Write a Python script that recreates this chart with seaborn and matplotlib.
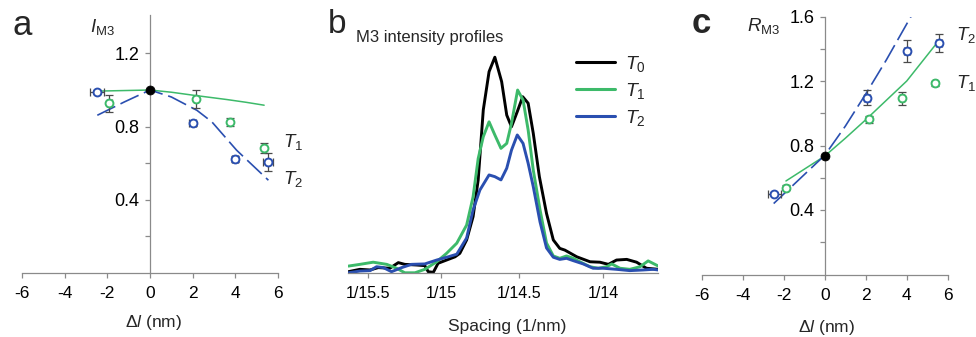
import numpy as np
import pandas as pd
import matplotlib
matplotlib.use("Agg")
import matplotlib.pyplot as plt
import seaborn as sns

# ---------------- data ----------------
# Panel a: I_M3 versus delta l (nm)
a_t1_dl = [-1.9, 2.15, 3.75, 5.35]
a_t1_i = [0.927, 0.95, 0.825, 0.685]
a_t1_ierr = [0.045, 0.05, 0.02, 0.027]
a_t1_dlerr = [0.1, 0.1, 0.1, 0.1]
a_t2_dl = [-2.47, 2.0, 3.98, 5.54]
a_t2_i = [0.99, 0.818, 0.622, 0.607]
a_t2_ierr = [0.01, 0.015, 0.015, 0.05]
a_t2_dlerr = [0.33, 0.15, 0.15, 0.22]
a_fit_t1_dl = [-2.5, 0, 1, 2, 3.6, 4.5, 5.35]
a_fit_t1_i = [0.994, 1.0, 0.988, 0.972, 0.948, 0.933, 0.917]
a_fit_t2_dl = [-2.47, -1.2, 0, 1, 2.2, 2.9, 4.06, 5.55]
a_fit_t2_i = [0.862, 0.935, 1.0, 0.962, 0.889, 0.826, 0.671, 0.507]
a_t0_dl = [0.0]
a_t0_i = [1.0]

# Panel b: M3 intensity profiles (spacing in 1/nm, relative intensity)
b_t0_s = [0.06394, 0.06428, 0.06458, 0.06482, 0.06516, 0.06541, 0.06560, 0.06595,
          0.06619, 0.06629, 0.06644, 0.06658, 0.06683, 0.06708, 0.06722, 0.06742,
          0.06761, 0.06776, 0.06791, 0.06808, 0.06825, 0.06845, 0.06860, 0.06874,
          0.06891, 0.06907, 0.06923, 0.06938, 0.06956, 0.06977, 0.06997, 0.07016,
          0.07031, 0.07066, 0.07105, 0.07134, 0.07159, 0.07183, 0.07213, 0.07242,
          0.07271, 0.07306]
b_t0_i = [0.006, 0.017, 0.014, 0.025, 0.022, 0.048, 0.040, 0.037,
          0.034, 0.006, 0.003, 0.045, 0.060, 0.075, 0.091, 0.153,
          0.261, 0.431, 0.755, 0.932, 0.999, 0.886, 0.731, 0.677,
          0.747, 0.816, 0.786, 0.647, 0.446, 0.276, 0.153, 0.114,
          0.106, 0.075, 0.052, 0.050, 0.040, 0.060, 0.063, 0.050,
          0.022, 0.017]
b_t1_s = [0.06394, 0.06428, 0.06467, 0.06507, 0.06536, 0.06560, 0.06590, 0.06619,
          0.06654, 0.06683, 0.06713, 0.06742, 0.06761, 0.06776, 0.06791, 0.06808,
          0.06825, 0.06843, 0.06860, 0.06874, 0.06892, 0.06908, 0.06923, 0.06938,
          0.06958, 0.06977, 0.06997, 0.07016, 0.07036, 0.07056, 0.07075, 0.07105,
          0.07129, 0.07154, 0.07169, 0.07193, 0.07222, 0.07252, 0.07276, 0.07306]
b_t1_i = [0.032, 0.040, 0.050, 0.040, 0.022, 0.001, 0.001, 0.017,
          0.052, 0.091, 0.138, 0.222, 0.353, 0.530, 0.631, 0.700,
          0.639, 0.577, 0.600, 0.693, 0.847, 0.801, 0.662, 0.477,
          0.292, 0.139, 0.079, 0.068, 0.079, 0.068, 0.052, 0.029,
          0.022, 0.029, 0.042, 0.022, 0.017, 0.029, 0.056, 0.032]
b_t2_s = [0.06394, 0.06428, 0.06458, 0.06477, 0.06497, 0.06521, 0.06551, 0.06580,
          0.06619, 0.06654, 0.06688, 0.06713, 0.06742, 0.06761, 0.06781, 0.06808,
          0.06825, 0.06843, 0.06860, 0.06874, 0.06891, 0.06908, 0.06923, 0.06938,
          0.06958, 0.06977, 0.06997, 0.07016, 0.07036, 0.07056, 0.07085, 0.07114,
          0.07144, 0.07183, 0.07222, 0.07261, 0.07291, 0.07306]
b_t2_i = [0.001, 0.009, 0.011, 0.029, 0.025, 0.006, 0.025, 0.040,
          0.042, 0.060, 0.075, 0.087, 0.162, 0.292, 0.384, 0.454,
          0.446, 0.431, 0.485, 0.569, 0.639, 0.600, 0.508, 0.400,
          0.236, 0.116, 0.073, 0.063, 0.068, 0.057, 0.042, 0.022,
          0.022, 0.017, 0.011, 0.014, 0.017, 0.014]
b_ticks = [1 / 15.5, 1 / 15, 1 / 14.5, 1 / 14]
b_ticklabels = ["1/15.5", "1/15", "1/14.5", "1/14"]

# Panel c: R_M3 versus delta l (nm)
c_t1_dl = [-1.9, 2.17, 3.79, 5.39]
c_t1_r = [0.538, 0.962, 1.094, 1.185]
c_t1_rerr = [0.015, 0.02, 0.04, 0.015]
c_t1_dlerr = [0.1, 0.1, 0.1, 0.1]
c_t2_dl = [-2.46, 2.05, 4.0, 5.59]
c_t2_r = [0.50, 1.096, 1.386, 1.437]
c_t2_rerr = [0.01, 0.047, 0.07, 0.057]
c_t2_dlerr = [0.3, 0.15, 0.15, 0.15]
c_fit_t1_dl = [-1.9, 0, 1, 2, 3, 4, 5.5]
c_fit_t1_r = [0.58, 0.735, 0.845, 0.96, 1.08, 1.2, 1.44]
c_fit_t2_dl = [-2.5, 0, 1, 2, 3, 4.25]
c_fit_t2_r = [0.44, 0.74, 0.92, 1.12, 1.33, 1.61]
c_t0_dl = [0.0]
c_t0_r = [0.735]

# ---------------- style ----------------
sns.set_theme(style="white")
plt.rcParams["font.family"] = ["Liberation Sans", "DejaVu Sans"]
plt.rcParams["mathtext.fontset"] = "custom"
plt.rcParams["mathtext.rm"] = "Liberation Sans"
plt.rcParams["mathtext.it"] = "Liberation Sans:italic"
plt.rcParams["axes.unicode_minus"] = False

GREEN = "#3dba6a"
BLUE = "#2a4fb0"
SPINE = "#8a8a8a"
ERR = "#4a4a4a"

W, H = 976, 337
fig = plt.figure(figsize=(W / 100, H / 100), dpi=100)


def frac(px, py):
    return px / W, 1 - py / H


def style_axes(ax, tick_fs):
    for s in ["top", "right"]:
        ax.spines[s].set_visible(False)
    for s in ["left", "bottom"]:
        ax.spines[s].set_color(SPINE)
        ax.spines[s].set_linewidth(0.9)
    ax.tick_params(axis="both", direction="out", length=3.5, width=0.9,
                   color=SPINE, labelcolor="black", labelsize=tick_fs,
                   bottom=True, left=True)
    ax.set_facecolor("none")


def dl_panel(ax, ylim, yticks, ylabels, t1x, t1y, t1ye, t1xe, t2x, t2y, t2ye, t2xe,
             f1x, f1y, f2x, f2y, t0x, t0y):
    style_axes(ax, 13)
    ax.spines["left"].set_position(("data", 0))
    ax.set_xlim(-6, 6)
    ax.set_ylim(*ylim)
    ax.set_xticks([-6, -4, -2, 0, 2, 4, 6])
    ax.set_xticklabels(["-6", "-4", "-2", "0", "2", "4", "6"], fontsize=12.5)
    ax.set_yticks(yticks)
    ax.set_yticklabels(ylabels)
    ax.tick_params(axis="x", pad=6)
    ax.tick_params(axis="y", pad=4)
    sns.lineplot(x=f1x, y=f1y, ax=ax, color=GREEN, lw=1.1, zorder=2)
    sns.lineplot(x=f2x, y=f2y, ax=ax, color=BLUE, lw=1.2, zorder=2,
                 linestyle=(0, (12, 3.5)))
    ax.errorbar(t1x, t1y, yerr=t1ye, xerr=t1xe, fmt="none", ecolor=ERR,
                elinewidth=0.9, capsize=3, capthick=0.9, zorder=3)
    ax.errorbar(t2x, t2y, yerr=t2ye, xerr=t2xe, fmt="none", ecolor=ERR,
                elinewidth=0.9, capsize=3, capthick=0.9, zorder=3)
    sns.scatterplot(x=t1x, y=t1y, ax=ax, marker="o", s=32, facecolor="white",
                    edgecolor=GREEN, linewidth=1.4, zorder=4)
    sns.scatterplot(x=t2x, y=t2y, ax=ax, marker="o", s=32, facecolor="white",
                    edgecolor=BLUE, linewidth=1.4, zorder=4)
    sns.scatterplot(x=t0x, y=t0y, ax=ax, marker="o", s=42, color="black",
                    edgecolor="black", zorder=6, clip_on=False)
    ax.set_xlabel(r"$\Delta$$l$ (nm)", fontsize=12.5)
    ax.set_ylabel("")


# ---------------- panel a ----------------
ax_a = fig.add_axes([22 / W, (H - 273) / H, 256 / W, 258 / H])
dl_panel(ax_a, (0, 1.41), [0.2, 0.4, 0.6, 0.8, 1.0, 1.2],
         ["", "0.4", "", "0.8", "", "1.2"],
         a_t1_dl, a_t1_i, a_t1_ierr, a_t1_dlerr,
         a_t2_dl, a_t2_i, a_t2_ierr, a_t2_dlerr,
         a_fit_t1_dl, a_fit_t1_i, a_fit_t2_dl, a_fit_t2_i, a_t0_dl, a_t0_i)
ax_a.xaxis.set_label_coords(0.512, -0.155)
ax_a.text(6.25, 0.689, r"$T_1$", fontsize=13.5, ha="left", va="baseline", clip_on=False)
ax_a.text(6.25, 0.489, r"$T_2$", fontsize=13.5, ha="left", va="baseline", clip_on=False)
fig.text(*frac(90, 32), r"$I_{\mathrm{M3}}$", fontsize=13.5, ha="left", va="baseline")
fig.text(*frac(12, 35), "a", fontsize=25, ha="left", va="baseline")

# ---------------- panel b ----------------
ax_b = fig.add_axes([348 / W, (H - 273) / H, 310 / W, 233 / H])
style_axes(ax_b, 11.5)
ax_b.spines["left"].set_visible(False)
ax_b.tick_params(axis="y", left=False)
prof = pd.concat([
    pd.DataFrame({"spacing": b_t0_s, "intensity": b_t0_i, "state": "T0"}),
    pd.DataFrame({"spacing": b_t1_s, "intensity": b_t1_i, "state": "T1"}),
    pd.DataFrame({"spacing": b_t2_s, "intensity": b_t2_i, "state": "T2"}),
], ignore_index=True)
sns.lineplot(data=prof, x="spacing", y="intensity", hue="state",
             palette={"T0": "black", "T1": GREEN, "T2": BLUE},
             estimator=None, lw=2.1, ax=ax_b)
ax_b.set_xlim(0.06393, 0.07305)
ax_b.set_ylim(0, 233 / 216)
ax_b.set_yticks([])
ax_b.set_xticks(b_ticks)
ax_b.set_xticklabels(b_ticklabels)
ax_b.tick_params(axis="x", pad=6)
ax_b.set_ylabel("")
ax_b.set_xlabel("Spacing (1/nm)", fontsize=12.5)
ax_b.xaxis.set_label_coords(0.512, -0.197)
handles, _ = ax_b.get_legend_handles_labels()
for h in handles:
    h.set_linewidth(2.2)
ax_b.legend(handles, [r"$T_0$", r"$T_1$", r"$T_2$"], loc="upper left",
            bbox_to_anchor=(0.735, 0.94), frameon=False, fontsize=14,
            handlelength=2.0, handletextpad=0.55, labelspacing=0.35,
            borderpad=0, borderaxespad=0)
fig.text(*frac(356, 42), "M3 intensity profiles", fontsize=12, ha="left", va="baseline")
fig.text(*frac(328, 33), "b", fontsize=24, ha="left", va="baseline")

# ---------------- panel c ----------------
ax_c = fig.add_axes([702 / W, (H - 274.5) / H, 245.7 / W, 258 / H])
dl_panel(ax_c, (0, 1.6), [0.2, 0.4, 0.6, 0.8, 1.0, 1.2, 1.4, 1.6],
         ["", "0.4", "", "0.8", "", "1.2", "", "1.6"],
         c_t1_dl, c_t1_r, c_t1_rerr, c_t1_dlerr,
         c_t2_dl, c_t2_r, c_t2_rerr, c_t2_dlerr,
         c_fit_t1_dl, c_fit_t1_r, c_fit_t2_dl, c_fit_t2_r, c_t0_dl, c_t0_r)
ax_c.xaxis.set_label_coords(0.507, -0.169)
ax_c.text(6.42, 1.454, r"$T_2$", fontsize=13.5, ha="left", va="baseline", clip_on=False)
ax_c.text(6.42, 1.155, r"$T_1$", fontsize=13.5, ha="left", va="baseline", clip_on=False)
fig.text(*frac(747, 31), r"$R_{\mathrm{M3}}$", fontsize=13.5, ha="left", va="baseline")
fig.text(*frac(692, 33), "c", fontsize=25, fontweight="bold", ha="left", va="baseline")

fig.savefig("out.png", dpi=100, facecolor="white")
